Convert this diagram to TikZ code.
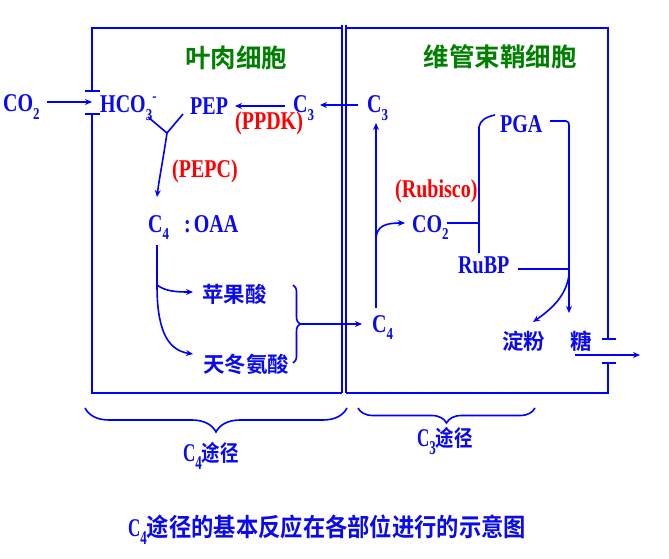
\documentclass[tikz,border=0pt]{standalone}
\usepackage{fontspec}
\setmainfont{Liberation Serif}
\newfontfamily\cjk{Noto Sans CJK SC}[BoldFont={Noto Sans CJK SC Bold}]
\usetikzlibrary{arrows.meta,decorations.pathreplacing}
\definecolor{lblue}{RGB}{0,0,255}
\definecolor{tblue}{RGB}{10,10,240}
\definecolor{tred}{RGB}{255,0,0}
\definecolor{tgreen}{RGB}{0,128,0}
\newcommand\lat[1]{\scalebox{1}[1.28]{#1}}
\newcommand\latb[1]{\scalebox{1}[1.5]{#1}}
\newcommand\dn[1]{\raisebox{-5.5pt}{\fontsize{13}{13}\selectfont #1}}
\newcommand\upr[1]{\raisebox{9pt}{\fontsize{13}{13}\selectfont #1}}
\begin{document}
\begin{tikzpicture}[x=1pt,y=-1pt,
  ln/.style={draw=lblue, line width=1.6pt},
  arr/.style={ln, -{Stealth[length=7pt,width=6pt]}},
  txt/.style={inner sep=0pt, anchor=base west, text=tblue, font=\bfseries\fontsize{20}{20}\selectfont},
  redtxt/.style={txt, text=tred},
  cjktxt/.style={inner sep=0pt, anchor=west, text=tblue, font=\cjk\bfseries\fontsize{21.5}{21.5}\selectfont},
  title/.style={inner sep=0pt, text=tgreen, font=\cjk\bfseries\fontsize{25.5}{25.5}\selectfont},
  brc/.style={ln, decorate},
]
\useasboundingbox (0,0) rectangle (669,559);

% ---- cell walls ----
\draw[ln] (92,91) -- (92,28) -- (342,28);
\draw[ln] (92,114) -- (92,393) -- (342,393);
\draw[ln] (342,25) -- (342,393);
\draw[ln] (346,25) -- (346,393);
\draw[ln] (346,28) -- (608,28) -- (608,339);
\draw[ln] (346,393) -- (608,393) -- (608,363);
\draw[ln] (85,91) -- (100,91);
\draw[ln] (85,114) -- (100,114);
\draw[ln] (602,339) -- (616,339);
\draw[ln] (602,363) -- (616,363);

% ---- titles ----
\node[title] (titleL) at (236,58) {叶肉细胞};
\node[title] (titleR) at (500,57) {维管束鞘细胞};

% ---- texts ----
\node[txt] (co2L) at (3,112) {\lat{CO\dn{2}}};
\node[txt] (hco3) at (100,113) {\lat{HCO\dn{3}\upr{-}}};
\node[txt] (pep) at (190,115) {\lat{PEP}};
\node[txt] (c3L) at (293,113) {\lat{C\dn{3}}};
\node[redtxt] (ppdk) at (235,130) {\lat{(PPDK)}};
\node[txt] (c3R) at (367,113) {\lat{C\dn{3}}};
\node[redtxt] (pepc) at (172,177) {\lat{(PEPC)}};
\node[txt] (oaa) at (148,232) {\lat{C\dn{4}\hspace{15pt}:\hspace{3pt}OAA}};
\node[cjktxt] (malic) at (202,294) {苹果酸};
\node[cjktxt] (asp) at (203,364) {天冬氨酸};
\node[txt] (c4R) at (372,332) {\lat{C\dn{4}}};
\node[txt] (co2R) at (412,232) {\lat{CO\dn{2}}};
\node[redtxt] (rubisco) at (395,197) {\lat{(Rubisco)}};
\node[txt] (pga) at (500,132) {\lat{PGA}};
\node[txt] (rubp) at (458,273) {\lat{RuBP}};
\node[cjktxt] (starch) at (502,341) {淀粉};
\node[cjktxt] (sugar) at (570,341) {糖};

\node[txt, anchor=west, font=\bfseries\fontsize{17}{17}\selectfont] (c4path) at (183,456)
  {\latb{C\dn{4}}{\cjk\fontsize{18.5}{18.5}\selectfont\scalebox{1}[1.2]{途径}}};
\node[txt, anchor=west, font=\bfseries\fontsize{17}{17}\selectfont] (c3path) at (417,441)
  {\latb{C\dn{3}}{\cjk\fontsize{18.5}{18.5}\selectfont\scalebox{1}[1.2]{途径}}};
\node[txt, anchor=west, font=\bfseries\fontsize{17}{17}\selectfont] (caption) at (128,530)
  {\latb{C\dn{4}}{\cjk\fontsize{22.3}{22.3}\selectfont\scalebox{1}[1.12]{途径的基本反应在各部位进行的示意图}}};

% ---- named points ----
\coordinate (a1) at (47,102);
\coordinate (gapL) at (92,102);
\coordinate (c3Lin) at (285,106);
\coordinate (pepin) at (235,106);
\coordinate (c3Rout) at (358,105);
\coordinate (c3Lend) at (320,105);
\coordinate (hcoB) at (148,117);
\coordinate (pepB) at (183,114);
\coordinate (mrg) at (167,133);
\coordinate (oaaT) at (157,197);
\coordinate (oaaB) at (157,245);
\coordinate (br1) at (157,285);
\coordinate (malA) at (193,292);
\coordinate (aspA) at (193,354);
\coordinate (braceT) at (293,285);
\coordinate (braceB) at (293,363);
\coordinate (braceTip) at (300,324);
\coordinate (c4Rin) at (362,324);
\coordinate (c4Rup) at (376,308);
\coordinate (c3Rdn) at (376,123);
\coordinate (br2) at (376,240);
\coordinate (co2Rin) at (405,223);
\coordinate (co2Rout) at (447,223);
\coordinate (jR) at (479,223);
\coordinate (jTop) at (479,127);
\coordinate (pgaIn) at (495,115);
\coordinate (jBot) at (479,253);
\coordinate (pgaOut) at (550,121);
\coordinate (sTop) at (566,121);
\coordinate (sugarIn) at (569,313);
\coordinate (rubpOut) at (518,269);
\coordinate (sMid) at (569,269);
\coordinate (stS) at (569,275);
\coordinate (starchIn) at (533,322);
\coordinate (sugarOut) at (575,355);
\coordinate (exitR) at (640,355);

% ---- mesophyll connectors ----
\draw[arr] (a1) -- (gapL);
\draw[arr] (c3Lin) -- (pepin);
\draw[arr] (c3Rout) -- (c3Lend);
\draw[ln] (hcoB) -- (mrg) -- (pepB);
\draw[arr] (mrg) .. controls (163,160) and (159,180) .. (oaaT);
\draw[arr] (oaaB) -- (br1) .. controls (157,325) and (165,350) .. (aspA);
\draw[arr] (br1) .. controls (165,291) and (175,292) .. (malA);
\draw[brc, decoration={brace, amplitude=7pt}] (braceT) -- (braceB);
\draw[arr] (braceTip) -- (c4Rin);

% ---- bundle sheath connectors ----
\draw[arr] (c4Rup) -- (c3Rdn);
\draw[arr] (br2) .. controls (376,226) and (385,223) .. (co2Rin);
\draw[ln] (co2Rout) -- (jR);
\draw[ln] (jBot) -- (jTop) .. controls (480,121) and (485,117) .. (pgaIn);
\draw[arr] (pgaOut) -- (sTop) .. controls (569,121) and (569,123) .. (569,128) -- (sugarIn);
\draw[ln] (rubpOut) -- (sMid);
\draw[arr] (stS) .. controls (566,297) and (550,310) .. (starchIn);
\draw[arr] (sugarOut) -- (exitR);

% ---- bottom braces ----
\draw[brc, decoration={brace, mirror, amplitude=24pt}] (85,408) -- (347,408);
\draw[brc, decoration={brace, mirror, amplitude=15pt}] (358,408) -- (535,408);
\end{tikzpicture}
\end{document}
